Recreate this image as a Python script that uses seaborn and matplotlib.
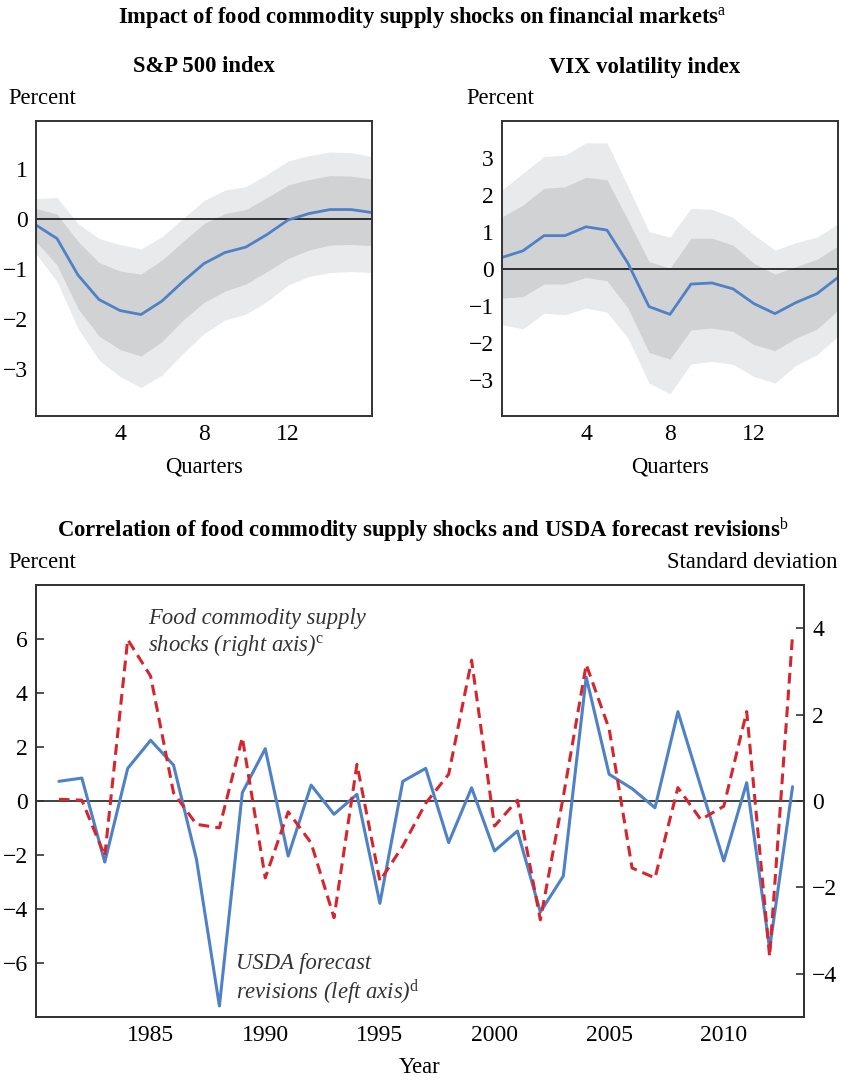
import numpy as np
import pandas as pd
import matplotlib
matplotlib.use('Agg')
import matplotlib.pyplot as plt
import seaborn as sns

# --- datos: respuestas al impulso (trimestres 0..16) ---
quarters = list(range(17))

sp_median = [-0.12, -0.39, -1.12, -1.61, -1.83, -1.91, -1.64, -1.25, -0.89,
             -0.67, -0.56, -0.31, -0.02, 0.11, 0.19, 0.19, 0.13]
sp_inner_hi = [0.21, 0.10, -0.45, -0.87, -1.04, -1.10, -0.82, -0.45, -0.09,
               0.11, 0.19, 0.43, 0.68, 0.79, 0.87, 0.86, 0.80]
sp_inner_lo = [-0.45, -0.92, -1.79, -2.34, -2.61, -2.74, -2.45, -2.02, -1.67,
               -1.44, -1.30, -1.05, -0.79, -0.62, -0.52, -0.51, -0.53]
sp_outer_hi = [0.41, 0.43, -0.09, -0.39, -0.51, -0.60, -0.35, 0.01, 0.37,
               0.58, 0.65, 0.89, 1.16, 1.27, 1.34, 1.33, 1.25]
sp_outer_lo = [-0.69, -1.25, -2.19, -2.82, -3.15, -3.37, -3.12, -2.69, -2.29,
               -2.02, -1.90, -1.65, -1.32, -1.15, -1.07, -1.05, -1.07]

vix_median = [0.31, 0.49, 0.90, 0.90, 1.14, 1.05, 0.15, -1.02, -1.23,
              -0.41, -0.38, -0.54, -0.94, -1.21, -0.91, -0.67, -0.23]
vix_inner_hi = [1.41, 1.73, 2.18, 2.22, 2.48, 2.41, 1.32, 0.20, 0.02,
                0.83, 0.83, 0.64, 0.15, -0.14, 0.06, 0.26, 0.62]
vix_inner_lo = [-0.79, -0.75, -0.41, -0.41, -0.23, -0.32, -1.06, -2.26, -2.44,
                -1.65, -1.60, -1.69, -2.05, -2.21, -1.87, -1.63, -1.11]
vix_outer_hi = [2.14, 2.59, 3.04, 3.08, 3.41, 3.41, 2.23, 1.01, 0.86,
                1.64, 1.61, 1.39, 0.92, 0.51, 0.71, 0.86, 1.22]
vix_outer_lo = [-1.51, -1.62, -1.20, -1.24, -1.06, -1.17, -1.87, -3.09, -3.38,
                -2.57, -2.50, -2.58, -2.91, -3.09, -2.61, -2.32, -1.83]

# --- datos: panel inferior (anual) ---
years = list(range(1981, 2014))
usda_revisions = [0.73, 0.85, -2.26, 1.21, 2.25, 1.33, -2.16, -7.59, 0.31, 1.94,
                  -2.04, 0.59, -0.49, 0.25, -3.79, 0.73, 1.21, -1.54, 0.49, -1.85,
                  -1.11, -4.11, -2.78, 4.59, 0.99, 0.46, -0.25, 3.31, 0.53, -2.22,
                  0.68, -5.47, 0.53]
supply_shocks = [0.04, 0.02, -1.27, 3.74, 2.89, 0.19, -0.54, -0.62, 1.47, -1.78,
                 -0.25, -0.97, -2.70, 0.85, -1.85, -1.04, -0.05, 0.62, 3.26, -0.58,
                 0.02, -2.75, 0.10, 3.16, 1.67, -1.55, -1.78, 0.31, -0.43, -0.12,
                 2.07, -3.60, 3.84]

BLUE = '#4f81c7'
RED = '#d7252e'
OUTER = '#e9eaec'
INNER = '#d1d2d4'
FS = 16.3      # textos
TFS = 17       # etiquetas de ejes

sns.set_theme(style='white')
plt.rcParams['font.family'] = ['Liberation Serif', 'DejaVu Serif']
plt.rcParams['mathtext.fontset'] = 'custom'
plt.rcParams['mathtext.rm'] = 'Liberation Serif'
plt.rcParams['mathtext.it'] = 'Liberation Serif:italic'
plt.rcParams['axes.unicode_minus'] = True
plt.rcParams['text.color'] = 'black'
plt.rcParams['axes.labelcolor'] = 'black'

fig = plt.figure(figsize=(8.45, 10.8), dpi=100)


def style_axes(ax):
    for s in ax.spines.values():
        s.set_color('#333333')
        s.set_linewidth(1.4)
    ax.tick_params(direction='in', length=6, width=1.2, colors='#333333',
                   labelsize=TFS, labelcolor='black', pad=6)


def irf_panel(rect, med, ilo, ihi, olo, ohi, ylim, yticks):
    ax = fig.add_axes(rect)
    ax.fill_between(quarters, olo, ohi, color=OUTER, lw=0)
    ax.fill_between(quarters, ilo, ihi, color=INNER, lw=0)
    ax.axhline(0, color='black', lw=1.1)
    df = pd.DataFrame({'q': quarters, 'v': med})
    sns.lineplot(data=df, x='q', y='v', ax=ax, color=BLUE, lw=2)
    ax.set_xlim(0, 16)
    ax.set_ylim(*ylim)
    ax.set_xticks([4, 8, 12])
    ax.set_yticks(yticks)
    ax.set_xlabel('Quarters', fontsize=FS, labelpad=8)
    ax.set_ylabel('')
    style_axes(ax)
    return ax


ax1 = irf_panel([0.0426, 0.6148, 0.3976, 0.2731], sp_median, sp_inner_lo, sp_inner_hi,
                sp_outer_lo, sp_outer_hi, (-3.94, 1.96), [-3, -2, -1, 0, 1])
ax2 = irf_panel([0.5941, 0.6148, 0.3976, 0.2731], vix_median, vix_inner_lo, vix_inner_hi,
                vix_outer_lo, vix_outer_hi, (-3.98, 4.0), [-3, -2, -1, 0, 1, 2, 3])

# panel inferior
ax3 = fig.add_axes([0.0426, 0.0583, 0.9089, 0.40])
ax3.axhline(0, color='#333333', lw=1.3)
df_b = pd.DataFrame({'year': years, 'usda': usda_revisions, 'shock': supply_shocks})
sns.lineplot(data=df_b, x='year', y='usda', ax=ax3, color=BLUE, lw=2.2)
ax3.set_xlim(1980, 2013.5)
ax3.set_ylim(-8, 8)
ax3.set_yticks([-6, -4, -2, 0, 2, 4, 6])
ax3.set_xticks([1985, 1990, 1995, 2000, 2005, 2010])
ax3.set_xlabel('Year', fontsize=FS, labelpad=8)
ax3.set_ylabel('')
style_axes(ax3)

ax4 = ax3.twinx()
sns.lineplot(data=df_b, x='year', y='shock', ax=ax4, color=RED, lw=2.2)
ax4.lines[0].set_dashes((3.5, 2))
ax4.set_ylim(-5, 5)
ax4.set_yticks([-4, -2, 0, 2, 4])
ax4.set_ylabel('')
style_axes(ax4)

# textos
fig.text(0.5, 1 - 18 / 1080, r'Impact of food commodity supply shocks on financial markets$^{\mathrm{a}}$',
         ha='center', va='center', fontsize=FS, fontweight='bold')
fig.text(204 / 845, 1 - 67 / 1080, 'S&P 500 index', ha='center', va='center', fontsize=FS, fontweight='bold')
fig.text(645 / 845, 1 - 67 / 1080, 'VIX volatility index', ha='center', va='center', fontsize=FS, fontweight='bold')
fig.text(8 / 845, 1 - 99 / 1080, 'Percent', ha='left', va='center', fontsize=FS)
fig.text(466 / 845, 1 - 99 / 1080, 'Percent', ha='left', va='center', fontsize=FS)
fig.text(0.5, 1 - 530 / 1080,
         r'Correlation of food commodity supply shocks and USDA forecast revisions$^{\mathrm{b}}$',
         ha='center', va='center', fontsize=FS, fontweight='bold')
fig.text(8 / 845, 1 - 562 / 1080, 'Percent', ha='left', va='center', fontsize=FS)
fig.text(838 / 845, 1 - 562 / 1080, 'Standard deviation', ha='right', va='center', fontsize=FS)

fig.text(148 / 845, 1 - 633 / 1080, 'Food commodity supply\nshocks (right axis)$^{\\mathrm{c}}$',
         ha='left', va='center', fontsize=FS, style='italic', color='#333333', linespacing=1.15)
fig.text(236 / 845, 1 - 980 / 1080, 'USDA forecast\nrevisions (left axis)$^{\\mathrm{d}}$',
         ha='left', va='center', fontsize=FS, style='italic', color='#333333', linespacing=1.15)

fig.savefig('out.png', dpi=100)
